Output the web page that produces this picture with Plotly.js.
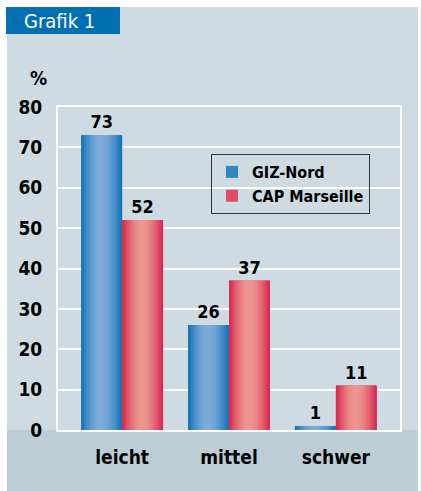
<!DOCTYPE html>
<html>
<head>
<meta charset="utf-8">
<script src="https://cdn.plot.ly/plotly-3.0.1.min.js"></script>
<style>html,body{margin:0;padding:0;background:#fff;}#chart{width:421px;height:491px;}</style>
</head>
<body>
<div id="chart"></div>
<script>
const categories = ['leicht', 'mittel', 'schwer'];
const giz = [73, 26, 1];
const cap = [52, 37, 11];
const seriesNames = ['GIZ-Nord', 'CAP Marseille'];
const yTicks = [0, 10, 20, 30, 40, 50, 60, 70, 80];

const FONT = '"Liberation Sans Narrow", "DejaVu Sans Condensed", "Arial Narrow", sans-serif';
const W = 421, H = 491;
const L = 58, R = 400, T = 107, B = 430;
const px = v => (v - L) / (R - L);
const py = v => (B - v) / (B - T);

function hex(c){return [parseInt(c.slice(1,3),16),parseInt(c.slice(3,5),16),parseInt(c.slice(5,7),16)];}
function mix(a,b,t){const A=hex(a),Bc=hex(b);return 'rgb('+A.map((v,i)=>Math.round(v+(Bc[i]-v)*t)).join(',')+')';}

const barW = 0.383;
const N = 16;
const series = [
  {name: seriesNames[0], y: giz, offset: -barW, dark: '#0a72b4', light: '#7eaadb', peak: 0.47},
  {name: seriesNames[1], y: cap, offset: 0, dark: '#d6224a', light: '#ec9690', peak: 0.48}
];

const traces = [];
series.forEach(s => {
  traces.push({
    type: 'bar', x: categories, y: s.y, name: s.name,
    width: barW, offset: s.offset,
    marker: {color: mix(s.dark, s.light, 0.35), line: {width: 0}},
    text: s.y.map(String), textposition: 'outside', cliponaxis: false,
    textfont: {family: FONT, size: 18, color: '#000', weight: 'bold'},
    hoverinfo: 'skip'
  });
  const sw = barW / N;
  for (let i = 0; i < N; i++) {
    const t = (i + 0.5) / N;
    const d = t < s.peak ? (s.peak - t) / s.peak : (t - s.peak) / (1 - s.peak);
    const k = Math.cos(Math.min(d, 1) * Math.PI / 2);
    const w = i === N - 1 ? sw : sw * 1.4;
    traces.push({
      type: 'bar', x: categories, y: s.y, showlegend: false,
      width: w, offset: s.offset + i * sw,
      marker: {color: mix(s.dark, s.light, k), line: {width: 0}},
      hoverinfo: 'skip'
    });
  }
});

const layout = {
  width: W, height: H,
  margin: {l: L, r: W - R, t: T, b: H - B, pad: 0},
  paper_bgcolor: '#ffffff',
  plot_bgcolor: 'rgba(0,0,0,0)',
  barmode: 'overlay',
  font: {family: FONT, color: '#000'},
  showlegend: true,
  legend: {
    x: px(211), y: py(154), xanchor: 'left', yanchor: 'top',
    bgcolor: 'rgba(0,0,0,0)', bordercolor: '#333', borderwidth: 1,
    font: {family: FONT, size: 16, color: '#000', weight: 'bold'},
    itemwidth: 30, tracegroupgap: 0
  },
  xaxis: {
    range: [-0.6, 2.6], type: 'category',
    showline: true, linecolor: '#ffffff', linewidth: 2, mirror: true,
    showgrid: false, zeroline: false,
    ticks: 'outside', ticklen: 9, tickcolor: 'rgba(0,0,0,0)',
    tickfont: {family: FONT, size: 19, color: '#000', weight: 'bold'},
    fixedrange: true
  },
  yaxis: {
    range: [0, 80], tickvals: yTicks, ticktext: yTicks.map(String),
    showline: true, linecolor: '#ffffff', linewidth: 2, mirror: true,
    showgrid: true, gridcolor: '#ffffff', gridwidth: 2, zeroline: false,
    ticks: 'outside', ticklen: 10, tickcolor: 'rgba(0,0,0,0)',
    tickfont: {family: FONT, size: 19, color: '#000', weight: 'bold'},
    fixedrange: true
  },
  shapes: [
    {type: 'rect', xref: 'paper', yref: 'paper', layer: 'below',
     x0: px(7), x1: px(418), y0: py(491), y1: py(7),
     fillcolor: '#cfdbe3', line: {width: 0}},
    {type: 'rect', xref: 'paper', yref: 'paper', layer: 'below',
     x0: px(7), x1: px(418), y0: py(491), y1: py(430),
     fillcolor: '#bccdd5', line: {width: 0}},
    {type: 'rect', xref: 'paper', yref: 'paper', layer: 'above',
     x0: px(6), x1: px(120), y0: py(34), y1: py(7),
     fillcolor: '#0070b0', line: {width: 0}}
  ],
  annotations: [
    {xref: 'paper', yref: 'paper', x: px(22), y: py(21), xanchor: 'left', yanchor: 'middle',
     text: 'Grafik 1', showarrow: false, font: {family: FONT, size: 20, color: '#ffffff'}},
    {xref: 'paper', yref: 'paper', x: px(38), y: py(78), xanchor: 'center', yanchor: 'middle',
     text: '%', showarrow: false, font: {family: FONT, size: 19, color: '#000', weight: 'bold'}}
  ]
};

Plotly.newPlot('chart', traces, layout, {displayModeBar: false, staticPlot: true});
</script>
</body>
</html>
